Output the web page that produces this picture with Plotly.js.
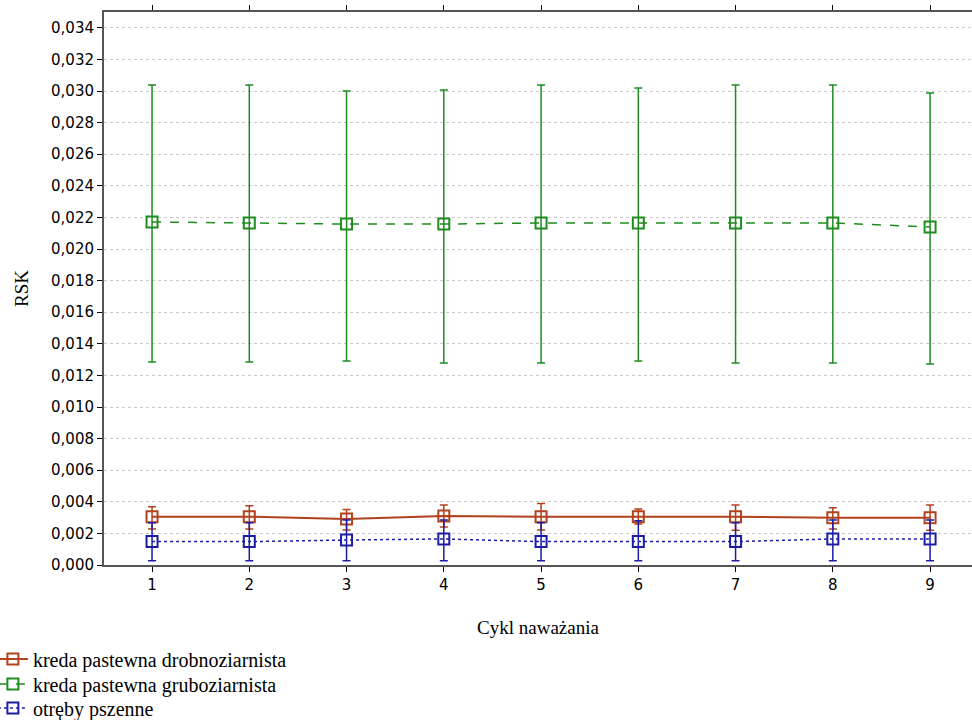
<!DOCTYPE html>
<html>
<head>
<meta charset="utf-8">
<script src="https://cdn.plot.ly/plotly-3.0.1.min.js"></script>
<style>html,body{margin:0;padding:0;background:#fff;}#chart{width:972px;height:720px;}</style>
</head>
<body>
<div id="chart"></div>
<script>
const cycles = [1, 2, 3, 4, 5, 6, 7, 8, 9];
const seriesNames = ["kreda pastewna drobnoziarnista", "kreda pastewna gruboziarnista", "otręby pszenne"];

const drobMean  = [0.00306, 0.00306, 0.00291, 0.00310, 0.00306, 0.00306, 0.00306, 0.00299, 0.00299];
const drobUpper = [0.00369, 0.00375, 0.00352, 0.00380, 0.00390, 0.00354, 0.00380, 0.00363, 0.00380];
const drobLower = [0.00228, 0.00228, 0.00221, 0.00240, 0.00221, 0.00260, 0.00220, 0.00228, 0.00220];

const grubMean  = [0.02171, 0.02165, 0.02158, 0.02158, 0.02165, 0.02165, 0.02165, 0.02165, 0.02139];
const grubUpper = [0.03038, 0.03038, 0.03000, 0.03006, 0.03038, 0.03019, 0.03038, 0.03038, 0.02987];
const grubLower = [0.01285, 0.01285, 0.01291, 0.01278, 0.01278, 0.01291, 0.01278, 0.01278, 0.01272];

const otrMean  = [0.00148, 0.00148, 0.00158, 0.00165, 0.00148, 0.00148, 0.00148, 0.00165, 0.00165];
const otrUpper = [0.00268, 0.00268, 0.00285, 0.00285, 0.00268, 0.00280, 0.00268, 0.00285, 0.00285];
const otrLower = [0.00027, 0.00027, 0.00027, 0.00027, 0.00027, 0.00027, 0.00027, 0.00027, 0.00027];

function mk(name, mean, upper, lower, color, dash, leg) {
  return {
    x: cycles, y: mean, name: name, type: 'scatter', mode: 'lines+markers', legend: leg,
    line: {color: color, width: dash === 'solid' ? 2 : 1.5, dash: dash},
    marker: {symbol: 'square-open', size: 11, color: color, line: {width: 2, color: color}},
    error_y: {type: 'data', symmetric: false,
      array: upper.map((u, i) => u - mean[i]),
      arrayminus: lower.map((l, i) => mean[i] - l),
      color: color, thickness: 1.5, width: 4}
  };
}

const data = [
  mk(seriesNames[0], drobMean, drobUpper, drobLower, '#b2421c', 'solid', 'legend'),
  mk(seriesNames[1], grubMean, grubUpper, grubLower, '#1f8c1f', 'dash', 'legend2'),
  mk(seriesNames[2], otrMean, otrUpper, otrLower, '#1c1ca6', 'dot', 'legend3')
];

function leg(y) {
  return {x: -0.128, y: y, xanchor: 'left', yanchor: 'middle',
    font: {family: 'Liberation Serif', size: 20, color: '#000'},
    itemwidth: 30, bgcolor: 'rgba(0,0,0,0)', borderwidth: 0};
}

const layout = {
  width: 972, height: 720,
  margin: {l: 104, r: 0, t: 12, b: 155, autoexpand: false},
  paper_bgcolor: '#ffffff', plot_bgcolor: '#ffffff',
  font: {family: 'Liberation Serif', size: 19, color: '#000'},
  separators: ', ',
  showlegend: true,
  legend: leg(-0.170),
  legend2: leg(-0.2152),
  legend3: leg(-0.2586),
  xaxis: {
    range: [0.506, 9.431], tickvals: cycles, ticktext: cycles.map(String),
    ticks: 'outside', ticklen: 5, tickcolor: '#000', showgrid: false, zeroline: false,
    showline: true, linecolor: '#555', linewidth: 2, mirror: 'ticks',
    tickfont: {family: 'DejaVu Sans', size: 15, color: '#000'},
    title: {text: 'Cykl naważania', standoff: 28, font: {family: 'Liberation Serif', size: 19, color: '#000'}}
  },
  yaxis: {
    range: [0, 0.035], dtick: 0.002, tick0: 0, tickformat: '.3f',
    ticks: 'outside', ticklen: 5, tickcolor: '#000',
    showgrid: true, gridcolor: '#c8c8c8', griddash: 'dot', gridwidth: 1, zeroline: false,
    showline: true, linecolor: '#555', linewidth: 2, mirror: false,
    tickfont: {family: 'DejaVu Sans', size: 15, color: '#000'},
    title: {text: 'RSK', standoff: 17, font: {family: 'Liberation Serif', size: 19, color: '#000'}}
  }
};

Plotly.newPlot('chart', data, layout, {displayModeBar: false, staticPlot: true});
</script>
</body>
</html>
